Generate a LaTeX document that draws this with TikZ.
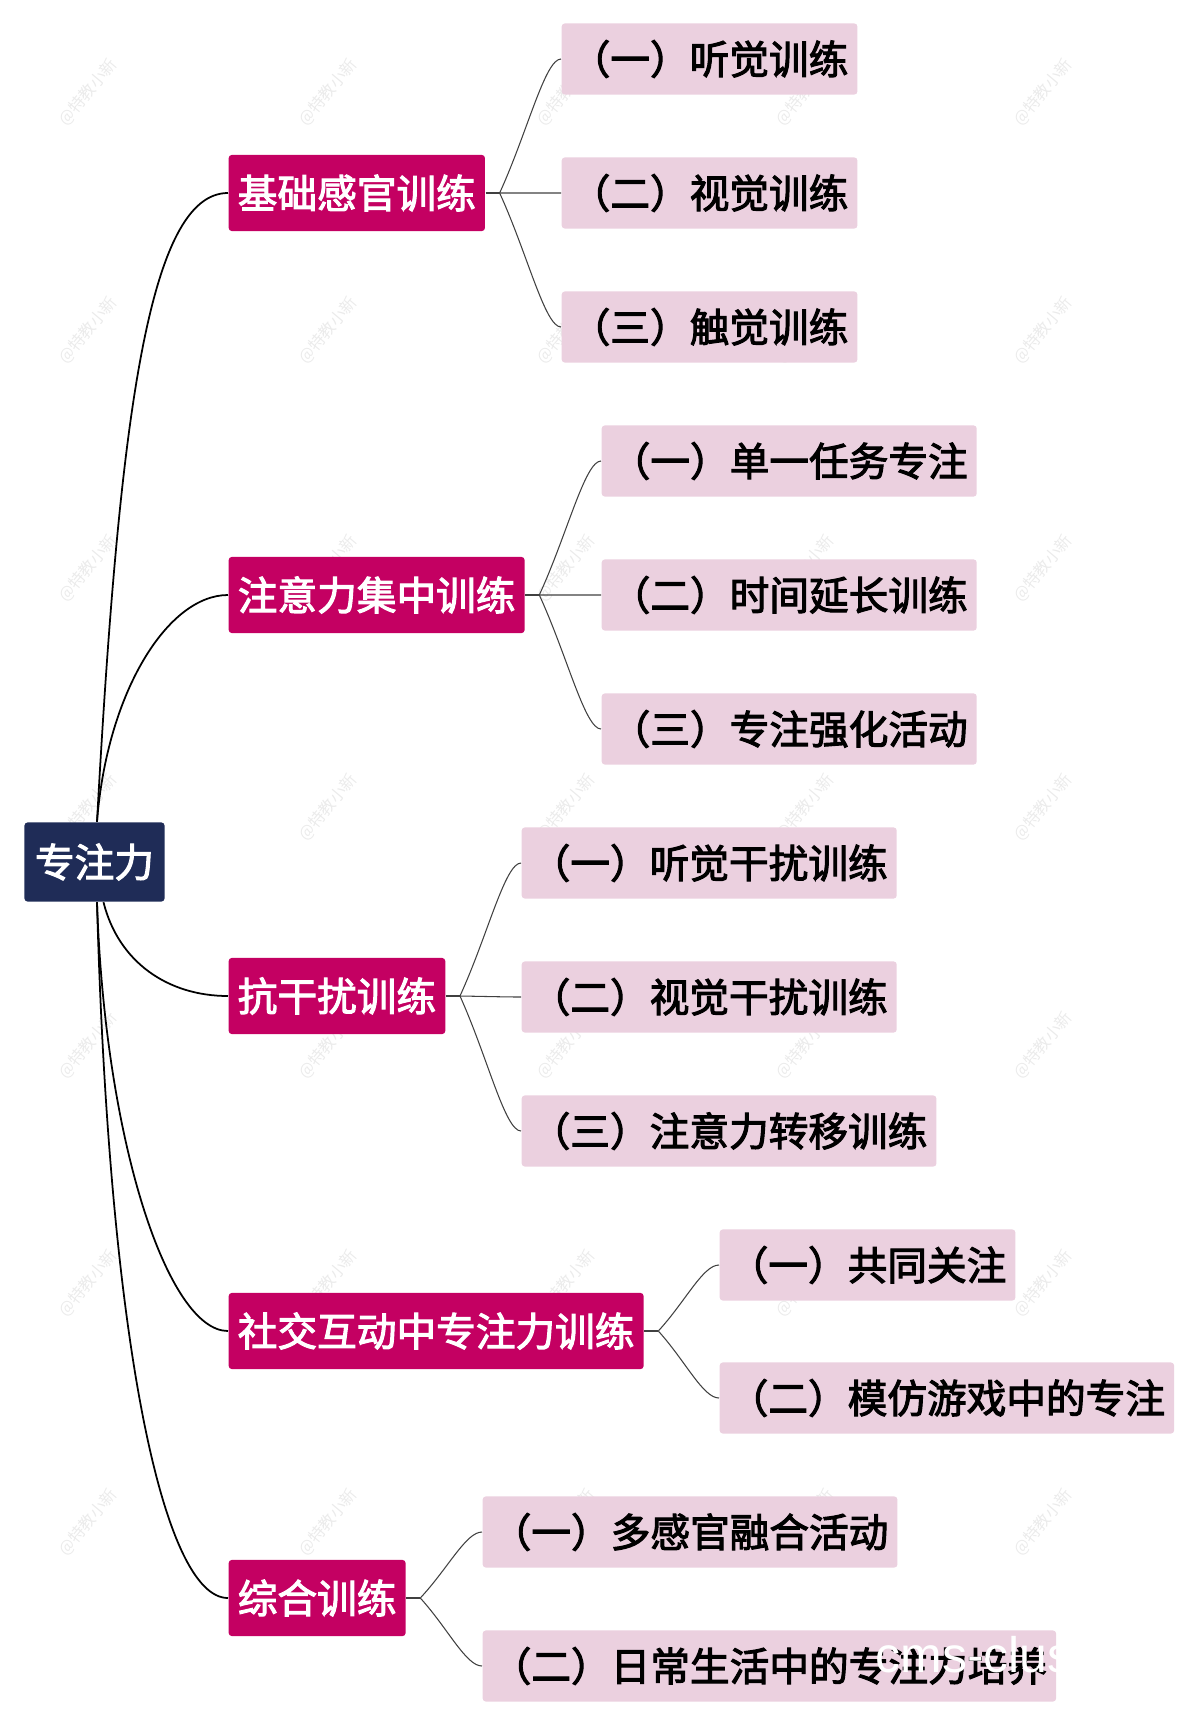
\documentclass[tikz,border=0pt]{standalone}
\usepackage{fontspec}
\setmainfont{Noto Sans CJK SC}[FakeBold=2.6]
\setsansfont{Liberation Sans}
\newfontfamily\markfont{Noto Sans CJK SC}
\usetikzlibrary{positioning, calc}
\definecolor{rootblue}{HTML}{1F2C57}
\definecolor{mainrose}{HTML}{C40062}
\definecolor{subpink}{HTML}{EBD0DF}
\tikzset{
	rootbox/.style={fill=rootblue, text=white, rounded corners=0.03cm, minimum height=0.79cm, inner xsep=0.105cm, inner ysep=0, font=\fontsize{11.28pt}{11.28pt}\selectfont},
	mainbox/.style={fill=mainrose, text=white, rounded corners=0.03cm, minimum height=0.76cm, inner xsep=0.091cm, inner ysep=0, anchor=west, font=\fontsize{11.28pt}{11.28pt}\selectfont},
	subbox/.style={fill=subpink, text=black, rounded corners=0.03cm, minimum height=0.71cm, inner xsep=0.09cm, inner ysep=0, anchor=west, font=\fontsize{11.28pt}{11.28pt}\selectfont},
	trunk/.style={draw=black, line width=0.5pt},
	branch/.style={draw=black!75, line width=0.3pt},
	markwater/.style={text=black!8, rotate=50, font=\markfont\fontsize{4.6pt}{4.6pt}\selectfont},
}
\begin{document}
\begin{tikzpicture}[x=0.01cm, y=-0.01cm]
	\useasboundingbox (0,0) rectangle (1200,1724);
	% watermark
	\foreach \wx in {88,328,566,805,1043}
		\foreach \wy in {92,330,568,807,1045,1283,1522}
			\node[markwater] at (\wx,\wy) {@特教小新};
	% root and main branches
	\node[rootbox] (root) at (94.5,862) {专注力};
	\node[mainbox] (basic) at (228,193) {基础感官训练};
	\node[mainbox] (focus) at (228,595) {注意力集中训练};
	\node[mainbox] (noise) at (228,996) {抗干扰训练};
	\node[mainbox] (social) at (228,1331) {社交互动中专注力训练};
	\node[mainbox] (mixed) at (228,1598) {综合训练};
	% leaves
	\node[subbox] (basica) at (561,59) {（一）听觉训练};
	\node[subbox] (basicb) at (561,193) {（二）视觉训练};
	\node[subbox] (basicc) at (561,327) {（三）触觉训练};
	\node[subbox] (focusa) at (601,461) {（一）单一任务专注};
	\node[subbox] (focusb) at (601,595) {（二）时间延长训练};
	\node[subbox] (focusc) at (601,729) {（三）专注强化活动};
	\node[subbox] (noisea) at (521,863) {（一）听觉干扰训练};
	\node[subbox] (noiseb) at (521,997) {（二）视觉干扰训练};
	\node[subbox] (noisec) at (521,1131) {（三）注意力转移训练};
	\node[subbox] (sociala) at (719,1265) {（一）共同关注};
	\node[subbox] (socialb) at (719,1398) {（二）模仿游戏中的专注};
	\node[subbox] (mixeda) at (482,1532) {（一）多感官融合活动};
	\node[subbox] (mixedb) at (482,1666) {（二）日常生活中的专注力培养};
	\node[text=white, inner sep=0, font=\sffamily\fontsize{14.2pt}{14.2pt}\selectfont, anchor=base west] (club) at (875,1672) {cms-clus};
	% hubs
	\coordinate (roottop) at ([xshift=0.025cm]root.north);
	\coordinate (rootbot) at ([xshift=0.025cm]root.south);
	\coordinate (rootbotb) at ([xshift=0.09cm]root.south);
	\coordinate[right=0.14cm of basic.east] (basichub);
	\coordinate[right=0.14cm of focus.east] (focushub);
	\coordinate[right=0.14cm of noise.east] (noisehub);
	\coordinate[right=0.14cm of social.east] (socialhub);
	\coordinate[right=0.14cm of mixed.east] (mixedhub);
	% trunk curves
	\draw[trunk] (roottop) .. controls +(22,-400) and +(-80,0) .. (basic.west);
	\draw[trunk] (roottop) .. controls +(10,-130) and +(-60,0) .. (focus.west);
	\draw[trunk] (rootbotb) .. controls +(15,60) and +(-60,0) .. (noise.west);
	\draw[trunk] (rootbot) .. controls +(8,240) and +(-60,0) .. (social.west);
	\draw[trunk] (rootbot) .. controls +(12,440) and +(-65,0) .. (mixed.west);
	% leaf curves
	\foreach \parent/\kids in {basic/{basica,basicb,basicc}, focus/{focusa,focusb,focusc}, noise/{noisea,noiseb,noisec}, social/{sociala,socialb}, mixed/{mixeda,mixedb}} {
		\draw[branch] (\parent.east) -- (\parent hub);
		\foreach \kid in \kids
			\draw[branch] (\parent hub) .. controls ($(\parent hub)!0.45!(\kid.west)$) and +(-16,0) .. (\kid.west);
	}
\end{tikzpicture}
\end{document}
